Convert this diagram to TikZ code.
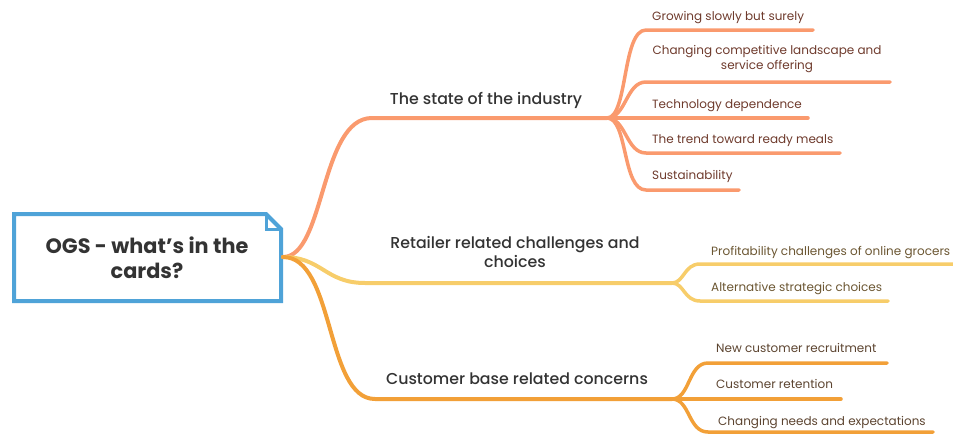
\documentclass[tikz,border=0pt]{standalone}
\usepackage{fontspec}
\setmainfont{Poppins}
\newfontfamily\topicfont{Poppins}[UprightFont=* Medium]
\definecolor{rootblue}{HTML}{4FA3D8}
\definecolor{branchA}{HTML}{FA9A6E}
\definecolor{branchB}{HTML}{F7CD6A}
\definecolor{branchC}{HTML}{F2A038}
\definecolor{textA}{HTML}{6E3A2C}
\definecolor{textB}{HTML}{6B5632}
\definecolor{textC}{HTML}{5C4430}
\definecolor{darktext}{HTML}{333333}
\tikzset{
  roottext/.style={font=\fontsize{20.8}{25}\selectfont\bfseries, text=darktext, align=center, inner sep=0pt},
  topic/.style={font=\topicfont\fontsize{15.8}{19}\selectfont, text=darktext, align=center, inner sep=0pt},
  subA/.style={font=\fontsize{12}{15}\selectfont, text=textA, inner sep=0pt, align=center},
  subB/.style={font=\fontsize{12}{15}\selectfont, text=textB, inner sep=0pt, align=center},
  subC/.style={font=\fontsize{12}{15}\selectfont, text=textC, inner sep=0pt, align=center},
  mainline/.style={line width=4pt, line cap=round},
  subline/.style={line width=3.5pt, line cap=round},
}
\begin{document}
\begin{tikzpicture}[x=1pt,y=-1pt]
\useasboundingbox (0,0) rectangle (953,434);

% central card with folded corner
\draw[rootblue, line width=4pt, line join=miter]
  (14,214) -- (266,214) -- (281,229) -- (281,301) -- (14,301) -- cycle;
\draw[rootblue, line width=3pt] (266,214) -- (266,229) -- (281,229);
\node[roottext] (root) at (147,258) {OGS - what’s in the\\cards?};
\coordinate (rootE) at (283,257);

% first-level branches
\coordinate (aS) at (372,118);
\coordinate (aF) at (607,118);
\coordinate (bS) at (365,283);
\coordinate (bF) at (672,283);
\coordinate (cS) at (375,399);
\coordinate (cF) at (672,399);

\draw[mainline, branchA] (rootE) .. controls (325,257) and (320,118) .. (aS) -- (aF);
\draw[mainline, branchB] (rootE) .. controls (322,257) and (325,283) .. (bS) -- (bF);
\draw[mainline, branchC] (rootE) .. controls (335,257) and (325,399) .. (cS) -- (cF);

\node[topic, anchor=base] (tA) at (486,104) {The state of the industry};
\node[topic] (tB) at (515,252) {Retailer related challenges and\\choices};
\node[topic, anchor=base] (tC) at (517,384) {Customer base related concerns};

% state of the industry
\coordinate (a1) at (813,30);
\coordinate (a2) at (890,82);
\coordinate (a3) at (808,118);
\coordinate (a4) at (840,153);
\coordinate (a5) at (739,190);
\draw[subline, branchA] (aF) .. controls (628,118) and (622,30) .. (646,30) -- (a1);
\draw[subline, branchA] (aF) .. controls (626,118) and (626,82) .. (646,82) -- (a2);
\draw[subline, branchA] (aF) -- (a3);
\draw[subline, branchA] (aF) .. controls (626,118) and (626,153) .. (646,153) -- (a4);
\draw[subline, branchA] (aF) .. controls (628,118) and (622,190) .. (646,190) -- (a5);

\node[subA, anchor=base west] (nA1) at (652,20) {Growing slowly but surely};
\node[subA] (nA2) at (767,59) {Changing competitive landscape and\\service offering};
\node[subA, anchor=base west] (nA3) at (652,108) {Technology dependence};
\node[subA, anchor=base west] (nA4) at (652,143) {The trend toward ready meals};
\node[subA, anchor=base west] (nA5) at (652,179) {Sustainability};

% retailer branch
\coordinate (b1) at (960,264);
\coordinate (b2) at (888,301);
\draw[subline, branchB] (bF) .. controls (684,283) and (684,264) .. (700,264) -- (b1);
\draw[subline, branchB] (bF) .. controls (684,283) and (684,301) .. (700,301) -- (b2);
\node[subB, anchor=base west] (nB1) at (711,255) {Profitability challenges of online grocers};
\node[subB, anchor=base west] (nB2) at (711,291) {Alternative strategic choices};

% customer base branch
\coordinate (c1) at (887,363);
\coordinate (c2) at (841,399);
\coordinate (c3) at (933,432);
\draw[subline, branchC] (cF) .. controls (690,399) and (688,363) .. (708,363) -- (c1);
\draw[subline, branchC] (cF) -- (c2);
\draw[subline, branchC] (cF) .. controls (690,399) and (688,432) .. (708,432) -- (c3);
\node[subC, anchor=base west] (nC1) at (716,352) {New customer recruitment};
\node[subC, anchor=base west] (nC2) at (716,388) {Customer retention};
\node[subC, anchor=base west] (nC3) at (718,425) {Changing needs and expectations};
\end{tikzpicture}
\end{document}
